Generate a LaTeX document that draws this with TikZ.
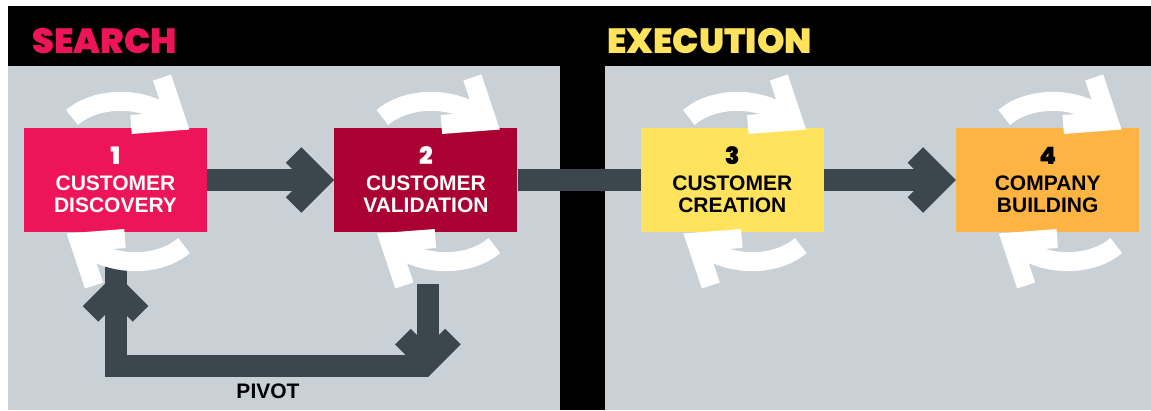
\documentclass[tikz,border=0pt]{standalone}
\usepackage{fontspec}
\usepackage{xcolor}
\usetikzlibrary{positioning}
\newfontfamily\stagefont{Liberation Sans}
\newfontfamily\heavyfont{Poppins Black}
\definecolor{discred}{HTML}{EE1459}
\definecolor{validred}{HTML}{AB0032}
\definecolor{createyellow}{HTML}{FFE35C}
\definecolor{buildorange}{HTML}{FDB443}
\definecolor{panelgrey}{HTML}{C9D0D6}
\definecolor{flowgrey}{HTML}{3C464D}
\newcommand\stagenum[1]{{\heavyfont\mdseries\fontsize{24}{24}\selectfont #1}\\[4pt]}
\tikzset{
  stage/.style={
    minimum width=183pt, minimum height=104pt, inner sep=0pt, align=center,
    font=\stagefont\bfseries\fontsize{21}{22}\selectfont,
  },
  phase/.style={font=\heavyfont\fontsize{35}{35}\selectfont, anchor=base west,
                inner sep=0pt},
  flow/.style={draw=flowgrey, line width=22pt},
  loopline/.style={draw=white, line width=19pt},
  pivotlbl/.style={font=\stagefont\bfseries\fontsize{21}{21}\selectfont,
                   anchor=base, inner sep=0pt},
  % open head of the thick grey arrows, tip at the pic origin, pointing along +x
  chevron/.pic={\draw[flow, line join=miter] (-40.6,-25) -- (-15.6,0) -- (-40.6,25);},
  % the two white half-turns that circle each stage
  iterate/.pic={
    \foreach \turn in {0,180}{
      \begin{scope}[rotate=\turn]
        \draw[loopline] (-56,-64) .. controls (-33,-84) and (12,-87) .. (44,-64);
        \draw[loopline, line join=miter] (34,-104) -- (48.5,-60.5) -- (3,-57);
      \end{scope}
    }
  },
}

\begin{document}
\begin{tikzpicture}[x=1pt, y=-1pt]
\useasboundingbox (0,0) rectangle (1151,410);

% ---------------------------------------------------------------- backdrop
\fill[black] (8,6) rectangle (1151,410);
\fill[panelgrey] (8,66) rectangle (560,410);
\fill[panelgrey] (605,66) rectangle (1151,410);

\node[phase, text=discred] (search) at (32,53) {SEARCH};
\node[phase, text=createyellow] (execution) at (607,53) {EXECUTION};

% ---------------------------------------------------------------- stages
\node[stage, fill=discred, text=white] (disc) at (115.5,180)
  {\stagenum{1}CUSTOMER\\DISCOVERY};
\node[stage, fill=validred, text=white, right=127pt of disc] (valid)
  {\stagenum{2}CUSTOMER\\VALIDATION};
\node[stage, fill=createyellow, right=123pt of valid] (create)
  {\stagenum{3}CUSTOMER\\CREATION};
\node[stage, fill=buildorange, right=132pt of create] (build)
  {\stagenum{4}COMPANY\\BUILDING};

% ---------------------------------------------------------------- forward flow
\draw[flow] (disc) -- ([xshift=-14]valid.west);
\pic at (valid.west) {chevron};
\draw[flow] (valid) -- (create);
\draw[flow] (create) -- ([xshift=-14]build.west);
\pic at (build.west) {chevron};

% ---------------------------------------------------------------- pivot loop
\coordinate (pivotfrom) at ([shift={(2,52)}]valid.south);
\coordinate (pivotto) at ([shift={(0,41)}]disc.south);
\draw[flow] (pivotfrom) -- ([shift={(2,130)}]valid.south);
\draw[flow, line join=miter] ([shift={(2,134)}]valid.south) -| ([yshift=15]pivotto);
\pic[rotate=-90] at ([shift={(2,145)}]valid.south) {chevron};
\pic[rotate=90] at (pivotto) {chevron};
\node[pivotlbl] (pivot) at (268,398.5) {PIVOT};

% ---------------------------------------------------------------- iterations
\foreach \s in {disc,valid,create,build}
  \pic at ([shift={(12.5,1.5)}]\s.center) {iterate};

\end{tikzpicture}
\end{document}
